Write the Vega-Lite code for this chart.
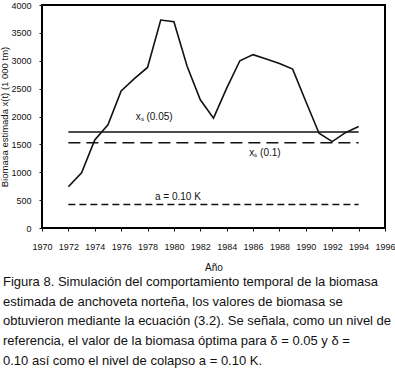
{
  "$schema": "https://vega.github.io/schema/vega-lite/v6.json",
  "autosize": {"type": "none"},
  "width": 343,
  "height": 223,
  "padding": {"left": 42, "top": 5, "right": 10, "bottom": 147},
  "background": "white",
  "config": {
    "font": "Liberation Sans",
    "view": {"stroke": "black", "strokeWidth": 2},
    "axis": {"domain": false, "grid": false, "labelColor": "#111", "titleColor": "#111", "tickColor": "#111", "labelFont": "Liberation Sans", "titleFont": "Liberation Sans", "titleFontWeight": "normal"}
  },
  "title": {
    "text": [
      "Figura 8. Simulación del comportamiento temporal de la biomasa",
      "estimada de anchoveta norteña, los valores de biomasa se",
      "obtuvieron mediante la ecuación (3.2). Se señala, como un nivel de",
      "referencia, el valor de la biomasa óptima para δ = 0.05 y δ =",
      "0.10 así como el nivel de colapso a = 0.10 K."
    ],
    "orient": "bottom",
    "anchor": "start",
    "frame": "group",
    "dx": -39,
    "font": "Liberation Sans",
    "fontSize": 13,
    "fontWeight": "normal",
    "color": "#111",
    "lineHeight": 19.7,
    "offset": 4
  },
  "datasets": {
    "biomasa": [
      {"year": 1972, "v": 740},
      {"year": 1973, "v": 990},
      {"year": 1974, "v": 1580},
      {"year": 1975, "v": 1850},
      {"year": 1976, "v": 2460},
      {"year": 1977, "v": 2680},
      {"year": 1978, "v": 2880},
      {"year": 1979, "v": 3730},
      {"year": 1980, "v": 3700},
      {"year": 1981, "v": 2900},
      {"year": 1982, "v": 2300},
      {"year": 1983, "v": 1970},
      {"year": 1984, "v": 2510},
      {"year": 1985, "v": 3000},
      {"year": 1986, "v": 3110},
      {"year": 1987, "v": 3030},
      {"year": 1988, "v": 2950},
      {"year": 1989, "v": 2850},
      {"year": 1990, "v": 2270},
      {"year": 1991, "v": 1700},
      {"year": 1992, "v": 1550},
      {"year": 1993, "v": 1710},
      {"year": 1994, "v": 1820}
    ],
    "refs": [
      {"ref": "x_s(0.05)", "year": 1972, "end": 1994, "v": 1720},
      {"ref": "x_s(0.1)", "year": 1972, "end": 1994, "v": 1530},
      {"ref": "a", "year": 1972, "end": 1994, "v": 420}
    ],
    "labels": [
      {"year": 1978.5, "v": 1990, "txt": "xₛ (0.05)"},
      {"year": 1986.9, "v": 1345, "txt": "xₛ (0.1)"},
      {"year": 1980.3, "v": 560, "txt": "a = 0.10 K"}
    ]
  },
  "encoding": {
    "x": {"field": "year", "type": "quantitative", "scale": {"domain": [1970, 1996], "nice": false, "zero": false},
      "axis": {"title": "Año", "values": [1970,1972,1974,1976,1978,1980,1982,1984,1986,1988,1990,1992,1994,1996], "format": "d", "labelOverlap": false, "labelFlush": false, "labelBound": false, "labelFontSize": 9, "titleFontSize": 10, "tickSize": 3, "labelPadding": 11, "titlePadding": 11}},
    "y": {"field": "v", "type": "quantitative", "scale": {"domain": [0, 4000], "nice": false},
      "axis": {"title": "Biomasa estimada x(t) (1 000 tm)", "values": [0,500,1000,1500,2000,2500,3000,3500,4000], "format": "d", "labelOverlap": false, "labelFlush": false, "labelBound": false, "labelFontSize": 9, "titleFontSize": 9.5, "tickSize": 3, "labelPadding": 8, "titlePadding": 1}}
  },
  "layer": [
    {
      "data": {"name": "refs"},
      "mark": {"type": "rule", "color": "#111"},
      "encoding": {
        "x2": {"field": "end"},
        "strokeDash": {"field": "ref", "type": "nominal", "scale": {"domain": ["x_s(0.05)", "x_s(0.1)", "a"], "range": [[1, 0], [12, 6], [7, 4]]}, "legend": null},
        "strokeWidth": {"value": 1.5}
      }
    },
    {
      "data": {"name": "biomasa"},
      "mark": {"type": "line", "color": "#111", "strokeWidth": 1.6},
      "encoding": {}
    },
    {
      "data": {"name": "labels"},
      "mark": {"type": "text", "fontSize": 10, "color": "#111", "font": "Liberation Sans"},
      "encoding": {
        "text": {"field": "txt"}
      }
    }
  ]
}
